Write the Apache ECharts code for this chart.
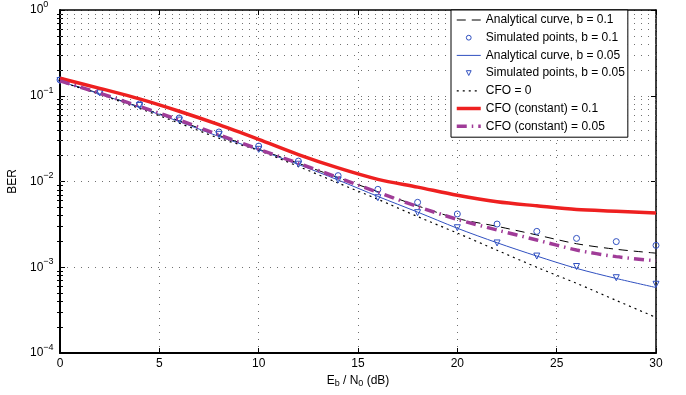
<!DOCTYPE html>
<html><head><meta charset="utf-8">
<script src="https://cdn.jsdelivr.net/npm/echarts@6/dist/echarts.min.js"></script>
<style>html,body{margin:0;padding:0;background:#fff}#c{width:686px;height:395px}</style>
</head><body><div id="c"></div>
<script>
// Eb/N0 (dB) sample positions
const SNR = [0,2,4,6,8,10,12,14,16,18,20,22,24,26,28,30];
// Analytical curve, b = 0.1 (black dashed)
const analyticB01 = [0.148,0.106,0.074,0.051,0.0345,0.0238,0.0163,0.0111,0.0076,0.0052,0.0037,0.0030,0.00238,0.00188,0.00162,0.00146];
// Simulated points, b = 0.1 (circles)
const simB01 = [0.153,0.111,0.080,0.055,0.0378,0.0259,0.0173,0.0117,0.0081,0.00572,0.00418,0.00319,0.00262,0.00217,0.00199,0.00180];
// Analytical curve, b = 0.05 (blue)
const analyticB005 = [0.147,0.105,0.073,0.050,0.0335,0.0234,0.0158,0.0104,0.0067,0.0044,0.00285,0.00193,0.00135,0.00097,0.00074,0.00058];
// Simulated points, b = 0.05 (triangles)
const simB005 = [0.150,0.108,0.077,0.052,0.0355,0.0237,0.0159,0.0104,0.00647,0.00433,0.00289,0.00192,0.00135,0.00102,0.000755,0.000633];
// CFO = 0 (dotted)
const cfo0 = [0.146,0.104,0.071,0.048,0.0320,0.0230,0.0150,0.0096,0.0062,0.0039,0.00250,0.00158,0.00100,0.00065,0.00041,0.00026];
// CFO (constant) = 0.1 (red)
const cfoConst01 = [0.160,0.122,0.092,0.066,0.046,0.031,0.0206,0.0144,0.0106,0.0086,0.0069,0.0058,0.0052,0.0047,0.0045,0.0043];
// CFO (constant) = 0.05 (magenta dash-dot)
const cfoConst005 = [0.149,0.107,0.075,0.052,0.035,0.0238,0.0163,0.0111,0.0075,0.0051,0.00362,0.00272,0.00208,0.00159,0.00133,0.00119];

const NAMES = ['Analytical curve, b = 0.1','Simulated points, b = 0.1','Analytical curve, b = 0.05','Simulated points, b = 0.05','CFO = 0','CFO (constant) = 0.1','CFO (constant) = 0.05'];
const IS_MARKER = [false,true,false,true,false,false,false];
const Y_EXPONENTS = [-4,-3,-2,-1,0];
const MINOR_MULT = [2,3,4,5,6,7,8,9];

const MINOR = [];
Y_EXPONENTS.slice(0,-1).forEach(e => MINOR_MULT.forEach(m => MINOR.push(m*Math.pow(10,e))));

const pair = arr => SNR.map((x,i)=>[x,arr[i]]);
const FONT = 'Liberation Sans, Arial, Helvetica, sans-serif';
const GRIDLINE = {color:'#707070', width:1, type:[1,6]};
const BLUE = '#3050c0';

const chart = echarts.init(document.getElementById('c'), null, {renderer:'canvas'});
const yBase = {type:'log', logBase:10, min:1e-4, max:1, gridIndex:0};
const option = {
  animation:false,
  textStyle:{fontFamily:FONT},
  grid:{left:60,right:30,top:10,bottom:42,containLabel:false,outerBoundsMode:'none'},
  legend:{
    left:451, top:10, orient:'vertical', selectedMode:false,
    backgroundColor:'#fff', borderColor:'#000', borderWidth:1, borderRadius:0,
    padding:[3,3,4,4], itemWidth:24, itemHeight:6, itemGap:3.7,
    lineStyle:{width:'inherit'},
    textStyle:{fontFamily:FONT, fontSize:12, color:'#000', lineHeight:14},
    data:NAMES.map((n,i)=> IS_MARKER[i]
      ? {name:n, itemStyle:{color:'#fff', borderColor:BLUE, borderWidth:1}}
      : {name:n, itemStyle:{opacity:0}}),
    z:10
  },
  xAxis:[{
    type:'value', min:0, max:30, interval:5,
    axisLine:{show:true, onZero:false, lineStyle:{color:'#000', width:2}},
    axisTick:{show:true, inside:true, length:5, lineStyle:{color:'#000'}},
    axisLabel:{show:true, margin:5, fontSize:12, color:'#000', fontFamily:FONT},
    splitLine:{show:true, lineStyle:GRIDLINE},
    name:'{n|E}{s|b}{n| / N}{s|0}{n| (dB)}', nameLocation:'middle', nameGap:18,
    nameTextStyle:{rich:{n:{fontSize:12,color:'#000',fontFamily:FONT}, s:{fontSize:9,color:'#000',fontFamily:FONT,verticalAlign:'top',padding:[6,0,0,0]}}}
  },{
    type:'value', min:0, max:30, interval:5, position:'top',
    axisLine:{show:true, onZero:false, lineStyle:{color:'#000', width:1.5}},
    axisTick:{show:true, inside:true, length:5, lineStyle:{color:'#000'}},
    axisLabel:{show:false}, splitLine:{show:false}
  }],
  yAxis:[Object.assign({}, yBase, {
    position:'left',
    axisLine:{show:true, onZero:false, lineStyle:{color:'#000', width:2}},
    axisTick:{show:true, inside:true, length:5, lineStyle:{color:'#000'}},
    axisLabel:{show:true, align:'left', margin:30, color:'#000',
      formatter: v => { const e = Math.round(Math.log10(v)); return '{b|10}{s|' + (e<0 ? '\u2212'+(-e) : e) + '}'; },
      rich:{b:{fontSize:12,color:'#000',fontFamily:FONT}, s:{fontSize:9,color:'#000',fontFamily:FONT,padding:[0,0,11,0]}}},
    splitLine:{show:true, lineStyle:GRIDLINE},
    name:'BER', nameLocation:'middle', nameGap:36,
    nameTextStyle:{fontSize:12,color:'#000',fontFamily:FONT}
  }), Object.assign({}, yBase, {
    position:'right',
    axisLine:{show:true, onZero:false, lineStyle:{color:'#000', width:1.5}},
    axisTick:{show:true, inside:true, length:5, lineStyle:{color:'#000'}},
    axisLabel:{show:false}, splitLine:{show:false}
  }), Object.assign({}, yBase, {
    position:'left',
    axisLine:{show:false},
    axisTick:{show:true, inside:true, length:3, customValues:MINOR, lineStyle:{color:'#000'}},
    axisLabel:{show:false}, splitLine:{show:false}
  }), Object.assign({}, yBase, {
    position:'right',
    axisLine:{show:false},
    axisTick:{show:true, inside:true, length:3, customValues:MINOR, lineStyle:{color:'#000'}},
    axisLabel:{show:false}, splitLine:{show:false}
  })],
  series:[
    {name:NAMES[0], type:'line', data:pair(analyticB01), symbol:'none', smooth:0.3,
     lineStyle:{color:'#000', width:1, type:[9,6]}, itemStyle:{color:'#000'}, z:3,
     markLine:{silent:true, symbol:'none', label:{show:false}, lineStyle:GRIDLINE, animation:false,
       emphasis:{disabled:true}, data:MINOR.map(v=>({yAxis:v}))}},
    {name:NAMES[1], type:'line', data:pair(simB01), symbol:'circle', symbolSize:6, showSymbol:true,
     lineStyle:{width:0, opacity:0}, itemStyle:{color:'rgba(0,0,0,0)', borderColor:BLUE, borderWidth:1}, z:4},
    {name:NAMES[2], type:'line', data:pair(analyticB005), symbol:'none', smooth:0.3,
     lineStyle:{color:BLUE, width:1}, itemStyle:{color:BLUE}, z:3},
    {name:NAMES[3], type:'line', data:pair(simB005), symbol:'triangle', symbolRotate:180, symbolSize:6, showSymbol:true,
     lineStyle:{width:0, opacity:0}, itemStyle:{color:'rgba(0,0,0,0)', borderColor:BLUE, borderWidth:1}, z:4},
    {name:NAMES[4], type:'line', data:pair(cfo0), symbol:'none', smooth:0.3,
     lineStyle:{color:'#000', width:1.2, type:[2,4]}, itemStyle:{color:'#000'}, z:3},
    {name:NAMES[5], type:'line', data:pair(cfoConst01), symbol:'none', smooth:0.3,
     lineStyle:{color:'#ee2020', width:3.5}, itemStyle:{color:'#ee2020'}, z:5},
    {name:NAMES[6], type:'line', data:pair(cfoConst005), symbol:'none', smooth:0.3,
     lineStyle:{color:'#a03c98', width:3.5, type:[10,5,1.5,5]}, itemStyle:{color:'#a03c98'}, z:6}
  ]
};
chart.setOption(option);
</script>
</body></html>
